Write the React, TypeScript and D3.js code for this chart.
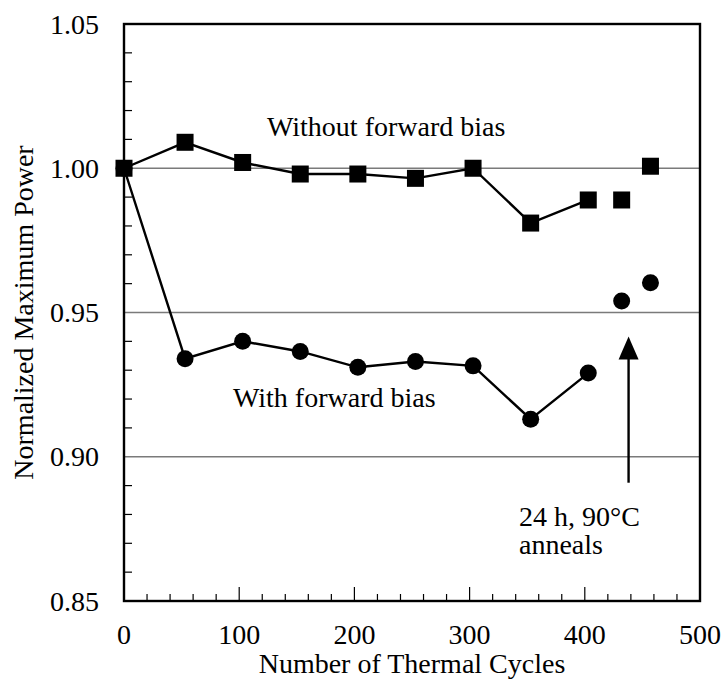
import React, { useRef, useEffect } from "react";
import * as d3 from "d3";

// cycles where both sets of modules were measured
const cycles = [0, 53, 103, 153, 203, 253, 303, 353, 403];
const withoutBias = [1.0, 1.009, 1.002, 0.998, 0.998, 0.9965, 1.0, 0.981, 0.989];
const withBias = [1.0, 0.934, 0.94, 0.9365, 0.931, 0.933, 0.9315, 0.913, 0.929];

// points after the anneals (not joined by lines)
const annealCycles = [432, 457];
const annealWithout = [0.989, 1.0007];
const annealWith = [0.954, 0.9603];

const xTicks = [0, 100, 200, 300, 400, 500];
const yTicks = [0.85, 0.9, 0.95, 1.0, 1.05];
const gridValues = [0.9, 0.95, 1.0];

const arrowCycle = 438;
const arrowFrom = 0.891;
const arrowTo = 0.9417;

const App = () => {
  const chartRef = useRef<SVGSVGElement | null>(null);

  useEffect(() => {
    document.body.style.margin = "0";
    const svg = d3.select(chartRef.current);
    svg.selectAll("*").remove();

    const width = 723;
    const height = 683;
    const left = 124, right = 700, top = 24, bottom = 601;
    const font = "Liberation Serif, DejaVu Serif, Times, serif";

    const x = d3.scaleLinear().domain([0, 500]).range([left, right]);
    const y = d3.scaleLinear().domain([0.85, 1.05]).range([bottom, top]);

    svg
      .attr("width", width)
      .attr("height", height)
      .attr("font-family", font)
      .attr("font-size", 28);

    // horizontal grid lines
    svg
      .selectAll("line.grid")
      .data(gridValues)
      .enter()
      .append("line")
      .attr("class", "grid")
      .attr("x1", left)
      .attr("x2", right)
      .attr("y1", (d) => y(d))
      .attr("y2", (d) => y(d))
      .style("stroke", "#7a7a7a")
      .style("stroke-width", 1.6);

    // minor y ticks every 0.01, inside
    const yMinor = d3.range(0.86, 1.05, 0.01).filter((v) => Math.abs(v * 20 - Math.round(v * 20)) > 1e-6);
    svg
      .selectAll("line.ytick")
      .data(yMinor)
      .enter()
      .append("line")
      .attr("x1", left)
      .attr("x2", left + 8)
      .attr("y1", (d) => y(d))
      .attr("y2", (d) => y(d))
      .style("stroke", "#000")
      .style("stroke-width", 1.2);

    // x ticks every 20, longer ones every 100
    const xMinor = d3.range(20, 500, 20);
    svg
      .selectAll("line.xtick")
      .data(xMinor)
      .enter()
      .append("line")
      .attr("x1", (d) => x(d))
      .attr("x2", (d) => x(d))
      .attr("y1", bottom)
      .attr("y2", (d) => (d % 100 === 0 ? bottom - 14 : bottom - 7))
      .style("stroke", "#000")
      .style("stroke-width", 1.2);

    // frame
    svg
      .append("rect")
      .attr("x", left)
      .attr("y", top)
      .attr("width", right - left)
      .attr("height", bottom - top)
      .style("fill", "none")
      .style("stroke", "#000")
      .style("stroke-width", 2.4);

    // tick labels
    svg
      .selectAll("text.ylab")
      .data(yTicks)
      .enter()
      .append("text")
      .attr("x", 99)
      .attr("y", (d) => y(d) + 9.5)
      .attr("text-anchor", "end")
      .text((d) => d3.format(".2f")(d));

    svg
      .selectAll("text.xlab")
      .data(xTicks)
      .enter()
      .append("text")
      .attr("x", (d) => x(d))
      .attr("y", 644)
      .attr("text-anchor", "middle")
      .text((d) => d);

    // axis titles
    svg
      .append("text")
      .attr("x", (left + right) / 2)
      .attr("y", 673)
      .attr("text-anchor", "middle")
      .text("Number of Thermal Cycles");

    svg
      .append("text")
      .attr("transform", `translate(33,${(top + bottom) / 2}) rotate(-90)`)
      .attr("text-anchor", "middle")
      .text("Normalized Maximum Power");

    // series lines
    const line = d3
      .line<number>()
      .x((_, i) => x(cycles[i]))
      .y((d) => y(d));

    [withBias, withoutBias].forEach((series) => {
      svg
        .append("path")
        .attr("d", line(series))
        .style("fill", "none")
        .style("stroke", "#000")
        .style("stroke-width", 2.4);
    });

    // circles: with forward bias
    const circlePts = [
      ...cycles.map((c, i) => [c, withBias[i]]),
      ...annealCycles.map((c, i) => [c, annealWith[i]]),
    ];
    svg
      .selectAll("circle.pt")
      .data(circlePts)
      .enter()
      .append("circle")
      .attr("cx", (d) => x(d[0]))
      .attr("cy", (d) => y(d[1]))
      .attr("r", 8.5)
      .style("fill", "#000");

    // squares: without forward bias
    const squarePts = [
      ...cycles.map((c, i) => [c, withoutBias[i]]),
      ...annealCycles.map((c, i) => [c, annealWithout[i]]),
    ];
    const s = 17;
    svg
      .selectAll("rect.pt")
      .data(squarePts)
      .enter()
      .append("rect")
      .attr("x", (d) => x(d[0]) - s / 2)
      .attr("y", (d) => y(d[1]) - s / 2)
      .attr("width", s)
      .attr("height", s)
      .style("fill", "#000");

    // series labels
    svg.append("text").attr("x", 267).attr("y", 136).text("Without forward bias");
    svg.append("text").attr("x", 233).attr("y", 407).text("With forward bias");

    // anneal arrow
    const ax = x(arrowCycle);
    const headTop = y(arrowTo);
    svg
      .append("line")
      .attr("x1", ax)
      .attr("x2", ax)
      .attr("y1", y(arrowFrom))
      .attr("y2", headTop + 20)
      .style("stroke", "#000")
      .style("stroke-width", 2.4);
    svg
      .append("path")
      .attr("d", `M${ax},${headTop} L${ax - 10},${headTop + 23} L${ax + 10},${headTop + 23} Z`)
      .style("fill", "#000");

    const note = svg.append("text").attr("x", 519).attr("y", 526);
    note.append("tspan").attr("x", 519).text("24 h, 90°C");
    note.append("tspan").attr("x", 519).attr("dy", 28).text("anneals");
  }, []);

  return <svg ref={chartRef} style={{ display: "block" }} />;
};

export default App;
